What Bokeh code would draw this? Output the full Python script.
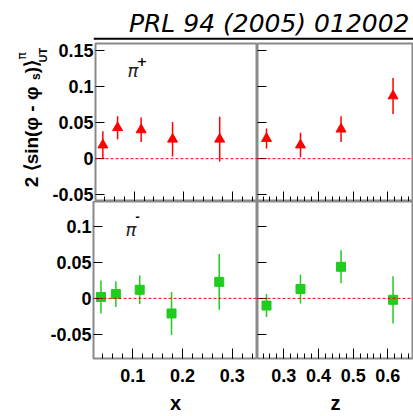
import numpy as np
from math import pi
from bokeh.plotting import figure
from bokeh.models import (ColumnDataSource, Range1d, LinearAxis, FixedTicker, Span, Label)
from bokeh.layouts import column, row
from bokeh.embed import file_html
from bokeh.resources import INLINE

# ---------------- data ----------------
x_bins = [0.036, 0.066, 0.114, 0.178, 0.274]
pip_x_val = [0.019, 0.043, 0.040, 0.027, 0.027]
pip_x_err = [0.019, 0.016, 0.017, 0.024, 0.031]
pim_x_val = [0.002, 0.006, 0.012, -0.021, 0.023]
pim_x_err = [0.023, 0.018, 0.020, 0.030, 0.039]

z_bins = [0.250, 0.348, 0.465, 0.615]
pip_z_val = [0.028, 0.019, 0.041, 0.087]
pip_z_err = [0.014, 0.017, 0.018, 0.025]
pim_z_val = [-0.010, 0.013, 0.044, -0.002]
pim_z_err = [0.016, 0.020, 0.023, 0.033]

x_major = [0.1, 0.2, 0.3]
z_major = [0.3, 0.4, 0.5, 0.6]
y_top_ticks = [-0.05, 0.0, 0.05, 0.1, 0.15]
y_bot_ticks = [-0.05, 0.0, 0.05, 0.1]
y_tick_labels = {-0.05: "-0.05", 0.0: "0", 0.05: "0.05", 0.1: "0.1", 0.15: "0.15"}

title_text = "PRL 94 (2005) 012002"

RED = "#ff0000"
GREEN = "#1fcc1f"
FRAME = "#8a8a8a"
FONT = "Liberation Sans"

x_range_lim = (0.021, 0.351)
z_range_lim = (0.224, 0.674)
ytop_lim = (-0.0593, 0.1597)
ybot_lim = (-0.0838, 0.1350)


def make_fig(width, height, xr, yr, left=0, bottom=0, top=0):
    p = figure(width=width, height=height, x_range=Range1d(*xr), y_range=Range1d(*yr),
               toolbar_location=None, output_backend="svg",
               x_axis_location=None, y_axis_location=None,
               min_border_left=left, min_border_right=0, min_border_top=top,
               min_border_bottom=bottom)
    p.grid.visible = False
    p.outline_line_color = FRAME
    p.outline_line_width = 2
    p.background_fill_color = "white"
    p.border_fill_color = "white"
    return p


def hide_labels(ax):
    ax.major_label_text_font_size = "0px"
    ax.major_label_text_color = None
    ax.major_label_standoff = 0


def add_x_axis(p, major, lim, label=None):
    minor = [round(v, 3) for v in np.arange(0.0, 0.8, 0.02) if lim[0] < v < lim[1]]
    ax = LinearAxis(ticker=FixedTicker(ticks=major, minor_ticks=minor))
    ax.axis_line_color = None
    ax.major_tick_in = 10
    ax.major_tick_out = 0
    ax.minor_tick_in = 5
    ax.minor_tick_out = 0
    ax.major_tick_line_color = "black"
    ax.minor_tick_line_color = "black"
    if label is not None:
        ax.major_label_text_font = FONT
        ax.major_label_text_font_style = "bold"
        ax.major_label_text_font_size = "18px"
        ax.major_label_text_color = "black"
        ax.major_label_standoff = 10
        ax.axis_label = label
        ax.axis_label_text_font = FONT
        ax.axis_label_text_font_style = "bold"
        ax.axis_label_text_font_size = "20px"
        ax.axis_label_text_color = "black"
        ax.axis_label_standoff = 7
    else:
        hide_labels(ax)
    p.add_layout(ax, "below")


def add_y_axis(p, ticks, show_labels):
    ax = LinearAxis(ticker=FixedTicker(ticks=ticks, minor_ticks=[]))
    ax.axis_line_color = None
    ax.major_tick_in = 9
    ax.major_tick_out = 0
    ax.minor_tick_in = 0
    ax.minor_tick_out = 0
    ax.major_tick_line_color = "black"
    if show_labels:
        ax.major_label_overrides = {t: y_tick_labels[t] for t in ticks}
        ax.major_label_text_font = FONT
        ax.major_label_text_font_style = "bold"
        ax.major_label_text_font_size = "18px"
        ax.major_label_text_color = "black"
        ax.major_label_standoff = 2
    else:
        hide_labels(ax)
    p.add_layout(ax, "left")


def add_data(p, xs, vals, errs, color, marker, size):
    src = ColumnDataSource(dict(x=xs, y=vals,
                                lo=[v - e for v, e in zip(vals, errs)],
                                hi=[v + e for v, e in zip(vals, errs)]))
    p.add_layout(Span(location=0, dimension="width", line_color=RED,
                      line_dash="3 2", line_width=1))
    p.segment(x0="x", y0="lo", x1="x", y1="hi", source=src, line_color=color, line_width=1.5)
    p.scatter(x="x", y="y", source=src, marker=marker, size=size,
              fill_color=color, line_color=color)


def lab(p, text, x, y, size, style="normal", align="left", baseline="middle",
        font="DejaVu Sans", color="#222222", angle=0.0):
    p.add_layout(Label(x=x, y=y, x_units="screen", y_units="screen", text=text,
                       text_font=font, text_font_size=size, text_font_style=style,
                       text_align=align, text_baseline=baseline, text_color=color,
                       angle=angle))


# ---------------- title ----------------
tp = figure(width=413, height=42, x_range=Range1d(0, 1), y_range=Range1d(0, 42),
            toolbar_location=None, output_backend="svg",
            x_axis_location=None, y_axis_location=None,
            min_border_left=93, min_border_right=0, min_border_top=0, min_border_bottom=0)
tp.grid.visible = False
tp.outline_line_color = None
tp.border_fill_color = "white"
tp.add_layout(Span(location=3.7, dimension="width", line_color="black", line_width=2))
lab(tp, title_text, 316, 19.0, "25px", style="italic", align="right",
    font="DejaVu Sans", color="black")

# ---------------- y title figure ----------------
yl = figure(width=49, height=159, x_range=Range1d(0, 1), y_range=Range1d(0, 1),
            toolbar_location=None, output_backend="svg",
            x_axis_location=None, y_axis_location=None,
            min_border_left=0, min_border_right=0, min_border_top=1, min_border_bottom=0)
yl.grid.visible = False
yl.outline_line_color = None
yl.border_fill_color = "white"
lab(yl, "2 ⟨sin(φ - φ", 30.9, 14.3, "19px", style="bold", font=FONT, color="black", angle=pi / 2)
lab(yl, "s", 35.8, 121.5, "12px", style="bold", font=FONT, color="black", angle=pi / 2)
lab(yl, ")⟩", 30.9, 128.3, "19px", style="bold", font=FONT, color="black", angle=pi / 2)
lab(yl, "π", 21.8, 142, "12px", style="normal", font="DejaVu Sans", color="black", angle=pi / 2)
lab(yl, "UT", 42.5, 139, "11px", style="bold", font=FONT, color="black", angle=pi / 2)

# ---------------- panels ----------------
tl = make_fig(208, 159, x_range_lim, ytop_lim, left=44, top=1)
add_x_axis(tl, x_major, x_range_lim)
add_y_axis(tl, y_top_ticks, True)
add_data(tl, x_bins, pip_x_val, pip_x_err, RED, "triangle", 10)

tr = make_fig(156, 159, z_range_lim, ytop_lim, top=1)
add_x_axis(tr, z_major, z_range_lim)
add_y_axis(tr, y_top_ticks, False)
add_data(tr, z_bins, pip_z_val, pip_z_err, RED, "triangle", 10)

bl = make_fig(257, 215, x_range_lim, ybot_lim, left=93, bottom=57)
add_x_axis(bl, x_major, x_range_lim, label="x")
add_y_axis(bl, y_bot_ticks, True)
add_data(bl, x_bins, pim_x_val, pim_x_err, GREEN, "square", 9)

br = make_fig(156, 215, z_range_lim, ybot_lim, bottom=57)
add_x_axis(br, z_major, z_range_lim, label="z")
add_y_axis(br, y_bot_ticks, False)
add_data(br, z_bins, pim_z_val, pim_z_err, GREEN, "square", 9)

# particle labels
lab(tl, "π", 32, 131.2, "18px", style="italic")
lab(tl, "+", 46.5, 140, "13px", style="bold", align="center", color="black")
lab(bl, "π", 32, 129.2, "18px", style="italic")
lab(bl, "-", 44, 143, "11px", style="bold", align="center", color="black")

layout = column(tp, row(yl, tl, tr), row(bl, br))
open("out.html", "w").write(file_html(layout, INLINE))
